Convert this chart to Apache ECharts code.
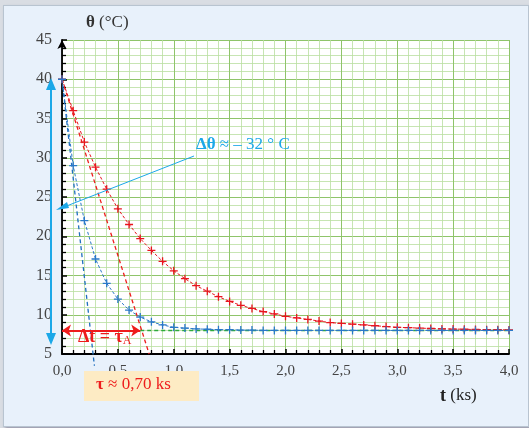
<!DOCTYPE html>
<html><head><meta charset="utf-8">
<script src="https://cdn.jsdelivr.net/npm/echarts@6/dist/echarts.min.js"></script>
<style>html,body{margin:0;padding:0;background:#d9dde3}#c{position:absolute;left:3px;top:5px;width:524px;height:420px;background:#e8f1fb;border:1px solid #b8c4d0;box-shadow:2px 2px 3px #99a}</style>
</head><body><div id="c"></div>
<script>
const times = [0,0.1,0.2,0.3,0.4,0.5,0.6,0.7,0.8,0.9,1.0,1.1,1.2,1.3,1.4,1.5,1.6,1.7,1.8,1.9,2.0,2.1,2.2,2.3,2.4,2.5,2.6,2.7,2.8,2.9,3.0,3.1,3.2,3.3,3.4,3.5,3.6,3.7,3.8,3.9,4.0];
const redValues = [40,36,32,28.8,26,23.5,21.5,19.7,18.2,16.8,15.6,14.6,13.7,13.0,12.3,11.7,11.2,10.8,10.4,10.1,9.8,9.6,9.4,9.2,9.0,8.9,8.8,8.7,8.6,8.5,8.4,8.35,8.3,8.25,8.2,8.18,8.15,8.12,8.1,8.09,8.07];
const blueValues = [40,29,22,17.1,14,12,10.6,9.7,9.1,8.7,8.4,8.3,8.2,8.15,8.1,8.1,8.05,8.05,8.0,8.0,8.0,8.0,8.0,8.0,8.0,8.0,8.0,8.0,8.0,8.0,8.0,8.0,8.0,8.0,8.0,8.0,8.0,8.0,8.0,8.0,8.0];
const redTangent = [[0,40],[0.78,5]];
const blueTangent = [[0,40],[0.29,3.5]];
const finalLine = [[0.7,8],[4,8]];
const xTicks = ['0,0','0,5','1,0','1,5','2,0','2,5','3,0','3,5','4,0'];

const plus = 'path://M0,5L10,5M5,0L5,10';
const ch = echarts.init(document.getElementById('c'));
const ser = (vals,color)=>({type:'line',data:times.map((t,i)=>[t,vals[i]]),symbol:plus,symbolSize:8,showSymbol:true,
  itemStyle:{color:'transparent',borderColor:color,borderWidth:1.3},lineStyle:{color,width:1,type:[3,2]},z:5});
const dl = (pts,color,w)=>({type:'line',data:pts,symbol:'none',lineStyle:{color,width:w||1.3,type:[4,3]},clip:false,z:4});
ch.setOption({
  animation:false,
  grid:{left:58,right:19,top:34,bottom:72,show:true,backgroundColor:'#fff',borderWidth:0},
  xAxis:{type:'value',min:0,max:4,interval:0.5,
    axisLine:{onZero:false,lineStyle:{color:'#000',width:1.8}},
    axisTick:{show:true,length:-5,lineStyle:{color:'#000',width:1.5}},
    minorTick:{show:true,splitNumber:5,length:-4,lineStyle:{color:'#000',width:1.3}},
    axisLabel:{formatter:v=>xTicks[Math.round(v*2)],color:'#444',fontFamily:'Liberation Serif',fontSize:15,margin:10},
    splitLine:{lineStyle:{color:'#8fc46a',width:1}},
    minorSplitLine:{show:true,lineStyle:{color:'#b9dea0',width:0.8}}},
  yAxis:{type:'value',min:5,max:45,interval:5,
    axisLine:{show:true,symbol:['none','arrow'],symbolSize:[7,9],lineStyle:{color:'#000',width:1.8}},
    axisTick:{show:true,length:-5,lineStyle:{color:'#000',width:1.5}},
    minorTick:{show:true,splitNumber:5,length:-4,lineStyle:{color:'#000',width:1.3}},
    axisLabel:{color:'#444',fontFamily:'Liberation Serif',fontSize:16,margin:10},
    splitLine:{lineStyle:{color:'#8fc46a',width:1}},
    minorSplitLine:{show:true,lineStyle:{color:'#b9dea0',width:0.8}}},
  series:[
    dl(finalLine,'#2eaa3c',1.5),
    dl(redTangent,'#ee1c1c'),
    dl(blueTangent,'#1f6fbf'),
    ser(redValues,'#e8141e'),
    ser(blueValues,'#2a78c8'),
    {type:'line',data:[],markLine:{silent:true,symbol:['arrow','arrow'],symbolSize:9,label:{show:false},
      lineStyle:{type:'solid',width:2,color:'#ee1c1c'},data:[[{coord:[0,8]},{coord:[0.7,8]}]]}}
  ],
  graphic:[
    {type:'text',left:82,top:8,z:100,style:{text:'{b|θ} (°C)',font:'17px "Liberation Serif"',fill:'#333',rich:{b:{font:'bold 17px "Liberation Serif"',fill:'#333'}}}},
    {type:'text',left:436,top:381,z:100,style:{text:'{b|t} (ks)',font:'17px "Liberation Serif"',fill:'#222',rich:{b:{font:'bold 18px "Liberation Serif"',fill:'#222'}}}},
    {type:'line',z:100,shape:{x1:47,y1:76,x2:47,y2:335},style:{stroke:'#1ba8e8',lineWidth:2}},
    {type:'polygon',z:100,shape:{points:[[42,84],[47,72],[52,84]]},style:{fill:'#1ba8e8'}},
    {type:'polygon',z:100,shape:{points:[[42,327],[47,339],[52,327]]},style:{fill:'#1ba8e8'}},
    {type:'line',z:100,shape:{x1:190,y1:150,x2:60,y2:201},style:{stroke:'#1ba8e8',lineWidth:1}},
    {type:'polygon',z:100,shape:{points:[[52,204],[63,196],[65,202]]},style:{fill:'#1ba8e8'}},
    {type:'text',left:192,top:130,z:100,style:{text:'{b|Δθ} ≈ – 32 ° C',font:'17px "Liberation Serif"',fill:'#1ba8e8',rich:{b:{font:'bold 17px "Liberation Serif"',fill:'#1ba8e8'}}}},
    {type:'text',left:74,top:322,z:100,style:{text:'{b|Δt = τ}{s|A}',rich:{b:{font:'bold 18px "Liberation Serif"',fill:'#ee1c1c'},s:{font:'12px "Liberation Serif"',fill:'#ee1c1c',verticalAlign:'bottom',padding:[8,0,0,0]}}}},
    {type:'rect',z:100,shape:{x:80,y:365,width:115,height:30},style:{fill:'#fdebc4'}},
    {type:'text',left:92,top:370,z:101,style:{text:'{b|τ} ≈ 0,70 ks',font:'17px "Liberation Serif"',fill:'#ee1c1c',rich:{b:{font:'bold 17px "Liberation Serif"',fill:'#ee1c1c'}}}}
  ]
});
</script></body></html>
